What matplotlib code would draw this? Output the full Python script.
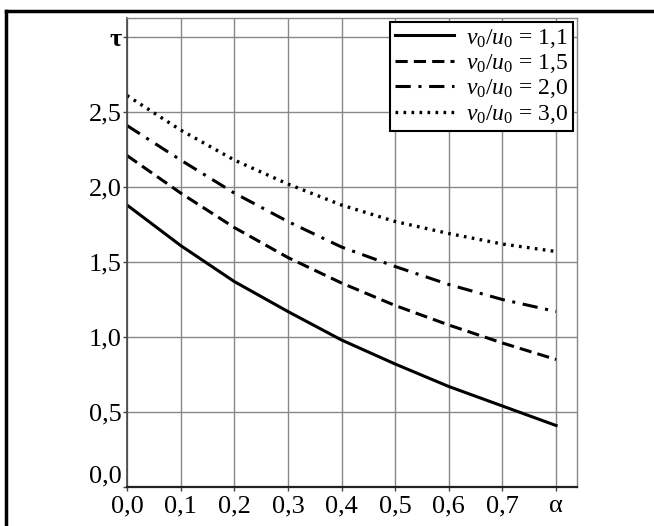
import matplotlib
matplotlib.use("Agg")
import matplotlib.pyplot as plt
from matplotlib.lines import Line2D

plt.rcParams['font.family'] = ['Liberation Serif', 'DejaVu Serif']
plt.rcParams['mathtext.fontset'] = 'custom'
plt.rcParams['mathtext.rm'] = 'Liberation Serif'
plt.rcParams['mathtext.it'] = 'Liberation Serif:italic'

alpha = [0.0, 0.1, 0.2, 0.3, 0.4, 0.5, 0.6, 0.7, 0.8]
tau_11 = [1.88, 1.61, 1.37, 1.17, 0.98, 0.82, 0.67, 0.54, 0.41]
tau_15 = [2.21, 1.96, 1.73, 1.53, 1.36, 1.21, 1.08, 0.96, 0.85]
tau_20 = [2.41, 2.18, 1.96, 1.77, 1.60, 1.47, 1.35, 1.25, 1.17]
tau_30 = [2.61, 2.38, 2.18, 2.02, 1.88, 1.77, 1.69, 1.62, 1.57]
labels = ["$v_0/u_0$ = 1,1", "$v_0/u_0$ = 1,5", "$v_0/u_0$ = 2,0", "$v_0/u_0$ = 3,0"]

xticks = [0.0, 0.1, 0.2, 0.3, 0.4, 0.5, 0.6, 0.7, 0.8]
xticklabels = ["0,0", "0,1", "0,2", "0,3", "0,4", "0,5", "0,6", "0,7", "α"]
yticks = [0.0, 0.5, 1.0, 1.5, 2.0, 2.5, 3.0]
yticklabels = ["0,0", "0,5", "1,0", "1,5", "2,0", "2,5", "τ"]

fig = plt.figure(figsize=(6.54, 5.26), dpi=100)
ax = fig.add_axes([127/654, 39/526, 450/654, 469/526])

styles = [dict(ls='-', lw=2.2),
          dict(ls=(0, (4, 2)), lw=2.2),
          dict(ls=(0, (5, 2.5, 1, 2.5)), lw=2.2),
          dict(ls=(0, (0.8, 1.6)), lw=2.4)]
for y, lab, st in zip([tau_11, tau_15, tau_20, tau_30], labels, styles):
    ax.plot(alpha, y, color='black', label=lab, **st)

ax.set_xlim(-0.0, 0.839)
ax.set_ylim(0.0, 3.127)
ax.set_xticks(xticks)
ax.set_xticklabels(xticklabels, fontsize=19)
ax.set_yticks(yticks)
ax.set_yticklabels(yticklabels, fontsize=19)
for t in ax.get_yticklabels():
    if t.get_text() == "τ":
        t.set_fontweight('bold')
    if t.get_text() == "0,0":
        t.set_verticalalignment('bottom')
        t.set_y(-0.045)
ax.grid(True, color='#888888', lw=1.0)
ax.set_axisbelow(True)
for s in ['top', 'right']:
    ax.spines[s].set_color('#888888')
    ax.spines[s].set_linewidth(1.0)
ax.spines['left'].set_color('#444444')
ax.spines['left'].set_linewidth(1.2)
ax.spines['bottom'].set_color('#222222')
ax.spines['bottom'].set_linewidth(1.6)
ax.tick_params(axis='x', direction='out', length=3, width=1.0, color='#444444', pad=3)
ax.tick_params(axis='y', direction='out', length=3, width=1.0, color='#444444', pad=1)

leg = ax.legend(loc='upper right', bbox_to_anchor=(573/654, 1 - 22/526), bbox_transform=fig.transFigure,
                fontsize=17, frameon=True, fancybox=False, edgecolor='black', framealpha=1,
                handlelength=2.5, handletextpad=0.5, borderpad=0.2, labelspacing=0.1,
                borderaxespad=0)
leg.get_frame().set_linewidth(1.5)

# outer frame (left and top)
fig.add_artist(Line2D([6/654, 6/654], [0, 1 - 11/526], transform=fig.transFigure, color='black', lw=2.5))
fig.add_artist(Line2D([6/654, 1.0], [1 - 11/526, 1 - 11/526], transform=fig.transFigure, color='black', lw=2.5))

fig.savefig("out.png", dpi=100)
